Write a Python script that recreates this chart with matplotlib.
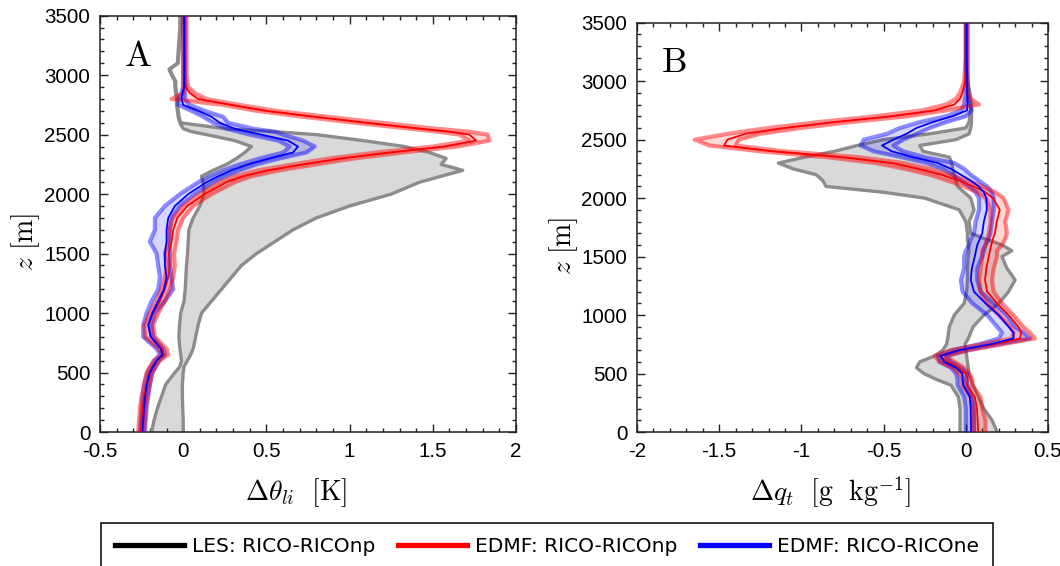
import matplotlib
matplotlib.use("Agg")
import matplotlib.pyplot as plt
from matplotlib.lines import Line2D
from matplotlib.ticker import MultipleLocator, FixedLocator, FixedFormatter

plt.rcParams['font.family'] = ['Liberation Sans', 'DejaVu Sans']
plt.rcParams['mathtext.fontset'] = 'cm'
plt.rcParams['axes.unicode_minus'] = False

# ---------------- Panel A: delta theta_li [K] ----------------
z_A = [0, 100, 200, 300, 400, 500, 550, 600, 650, 700, 800, 900, 1000, 1100, 1200,
       1300, 1400, 1500, 1600, 1700, 1800, 1900, 2000, 2100, 2150, 2200, 2250, 2300,
       2350, 2400, 2450, 2500, 2525, 2550, 2600, 2650, 2700, 2750, 2800, 2850, 2900,
       2950, 3000, 3050, 3100, 3200, 3300, 3400, 3500]

les_lo_A = [-0.19, -0.175, -0.155, -0.13, -0.105, -0.05, -0.02, -0.01, -0.015, -0.02,
            -0.026, -0.022, -0.015, 0.005, 0.012, 0.016, 0.02, 0.026, 0.03, 0.034,
            0.06, 0.10, 0.125, 0.12, 0.11, 0.18, 0.26, 0.32, 0.37, 0.41, 0.31, 0.14,
            0.05, 0.0, -0.02, -0.03, -0.035, -0.04, -0.04, -0.045, -0.05, -0.05,
            -0.07, -0.085, -0.035, -0.03, -0.025, -0.02, -0.02]
les_hi_A = [0.0, 0.0, -0.003, -0.005, -0.005, 0.0, 0.005, 0.025, 0.045, 0.06, 0.075,
            0.09, 0.11, 0.17, 0.23, 0.29, 0.35, 0.44, 0.55, 0.66, 0.80, 1.0, 1.25,
            1.42, 1.55, 1.68, 1.55, 1.58, 1.48, 1.33, 1.08, 0.80, 0.55, 0.25, -0.015,
            -0.025, -0.03, -0.035, -0.035, -0.04, -0.045, -0.045, -0.065, -0.08,
            -0.03, -0.025, -0.02, -0.015, -0.015]

red_c_A = [-0.255, -0.25, -0.245, -0.235, -0.22, -0.205, -0.185, -0.16, -0.115, -0.125,
           -0.195, -0.21, -0.18, -0.14, -0.11, -0.09, -0.08, -0.086, -0.07, -0.06,
           -0.035, 0.025, 0.13, 0.26, 0.36, 0.51, 0.72, 0.95, 1.24, 1.57, 1.76, 1.72,
           1.6, 1.42, 1.1, 0.79, 0.5, 0.29, 0.09, 0.04, 0.015, 0.012, 0.012, 0.011,
           0.011, 0.01, 0.01, 0.01, 0.01]
red_lo_A = [-0.27, -0.265, -0.26, -0.25, -0.235, -0.22, -0.2, -0.175, -0.13, -0.145,
            -0.23, -0.235, -0.2, -0.16, -0.13, -0.11, -0.10, -0.11, -0.09, -0.085,
            -0.06, 0.0, 0.10, 0.22, 0.31, 0.45, 0.66, 0.88, 1.16, 1.5, 1.72, 1.66,
            1.53, 1.36, 1.03, 0.72, 0.44, 0.24, -0.07, 0.0, 0.0, 0.0, 0.0, 0.0,
            0.0, 0.0, 0.0, 0.0, 0.0]
red_hi_A = [-0.235, -0.23, -0.225, -0.215, -0.2, -0.185, -0.165, -0.14, -0.09, -0.10,
            -0.17, -0.18, -0.15, -0.11, -0.08, -0.06, -0.05, -0.055, -0.04, -0.03,
            0.0, 0.06, 0.17, 0.31, 0.41, 0.58, 0.80, 1.03, 1.32, 1.65, 1.84, 1.83,
            1.72, 1.52, 1.19, 0.87, 0.56, 0.34, 0.14, 0.07, 0.03, 0.025, 0.02, 0.02,
            0.02, 0.02, 0.02, 0.02, 0.02]

blue_c_A = [-0.245, -0.24, -0.235, -0.228, -0.218, -0.2, -0.18, -0.16, -0.125, -0.135,
            -0.195, -0.21, -0.185, -0.15, -0.115, -0.10, -0.11, -0.11, -0.10, -0.10,
            -0.09, -0.05, 0.03, 0.14, 0.21, 0.29, 0.39, 0.52, 0.66, 0.69, 0.63, 0.47,
            0.39, 0.31, 0.22, 0.17, 0.09, 0.0, -0.01, -0.005, 0.006, 0.006, 0.006,
            0.006, 0.006, 0.006, 0.006, 0.006, 0.006]
blue_lo_A = [-0.26, -0.255, -0.25, -0.245, -0.235, -0.215, -0.195, -0.175, -0.14, -0.16,
             -0.24, -0.24, -0.22, -0.19, -0.15, -0.14, -0.15, -0.16, -0.20, -0.17,
             -0.17, -0.11, -0.02, 0.09, 0.16, 0.24, 0.34, 0.46, 0.60, 0.64, 0.57, 0.40,
             0.33, 0.26, 0.18, 0.12, 0.05, -0.03, -0.03, -0.01, 0.0, 0.0, 0.0,
             0.0, 0.0, 0.0, 0.0, 0.0, 0.0]
blue_hi_A = [-0.23, -0.225, -0.22, -0.21, -0.2, -0.185, -0.165, -0.145, -0.11, -0.12,
             -0.18, -0.19, -0.17, -0.11, -0.06, -0.07, -0.08, -0.08, -0.08, -0.08,
             -0.07, -0.02, 0.07, 0.18, 0.25, 0.34, 0.44, 0.58, 0.74, 0.79, 0.72, 0.60,
             0.55, 0.42, 0.27, 0.24, 0.13, 0.04, 0.01, 0.01, 0.015, 0.012, 0.012,
             0.012, 0.012, 0.012, 0.012, 0.012, 0.012]

# ---------------- Panel B: delta q_t [g/kg] ----------------
z_B = [0, 100, 200, 300, 400, 450, 500, 550, 600, 650, 700, 750, 800, 850, 900, 1000,
       1100, 1200, 1300, 1400, 1500, 1550, 1600, 1650, 1700, 1800, 1900, 2000, 2050,
       2100, 2150, 2200, 2250, 2300, 2350, 2400, 2450, 2500, 2550, 2600, 2650, 2700,
       2750, 2800, 2850, 2900, 3000, 3100, 3200, 3300, 3400, 3500]

les_lo_B = [-0.035, -0.035, -0.035, -0.045, -0.09, -0.18, -0.255, -0.30, -0.28, -0.19,
            -0.14, -0.117, -0.11, -0.105, -0.10, -0.07, -0.01, 0.005, 0.01, 0.01,
            0.015, 0.02, 0.015, 0.01, 0.01, 0.0, -0.04, -0.25, -0.5, -0.85, -0.87,
            -0.91, -1.05, -1.14, -0.98, -0.80, -0.66, -0.50, -0.22, 0.0, 0.02, 0.025,
            0.03, 0.03, 0.025, 0.02, 0.005, 0.002, 0.0, 0.0, 0.0, 0.0]
les_hi_B = [0.19, 0.16, 0.11, 0.075, 0.045, 0.03, 0.02, 0.015, 0.01, 0.005, 0.0,
            -0.005, 0.015, 0.03, 0.045, 0.11, 0.2, 0.26, 0.30, 0.25, 0.22, 0.28, 0.22,
            0.12, 0.03, 0.02, 0.05, 0.03, -0.01, -0.05, -0.06, -0.07, -0.08, -0.085,
            -0.10, -0.26, -0.28, -0.06, 0.02, 0.03, 0.035, 0.035, 0.035, 0.035, 0.03,
            0.025, 0.01, 0.005, 0.005, 0.005, 0.005, 0.005]

red_c_B = [0.075, 0.072, 0.068, 0.055, 0.008, 0.013, 0.0, -0.045, -0.11, -0.157, -0.04,
           0.17, 0.33, 0.337, 0.32, 0.26, 0.19, 0.13, 0.117, 0.125, 0.14, 0.147, 0.155,
           0.165, 0.177, 0.188, 0.207, 0.165, 0.12, 0.045, -0.045, -0.15, -0.29, -0.45,
           -0.75, -1.17, -1.47, -1.45, -1.34, -1.10, -0.80, -0.45, -0.19, -0.07, -0.035,
           -0.02, -0.005, 0.0, 0.0, 0.0, 0.0, 0.0]
red_lo_B = [0.05, 0.05, 0.045, 0.03, -0.02, -0.02, -0.04, -0.08, -0.16, -0.19, -0.09,
            0.10, 0.28, 0.29, 0.27, 0.20, 0.13, 0.09, 0.08, 0.09, 0.10, 0.10, 0.12,
            0.13, 0.14, 0.15, 0.15, 0.12, 0.07, -0.01, -0.11, -0.22, -0.37, -0.55,
            -0.85, -1.25, -1.56, -1.65, -1.45, -1.20, -0.90, -0.55, -0.27, -0.12,
            -0.06, -0.035, -0.01, -0.005, 0.0, 0.0, 0.0, 0.0]
red_hi_B = [0.12, 0.12, 0.10, 0.09, 0.04, 0.04, 0.02, -0.01, -0.07, -0.12, 0.02, 0.22,
            0.42, 0.39, 0.35, 0.29, 0.22, 0.17, 0.16, 0.17, 0.19, 0.19, 0.22, 0.24,
            0.25, 0.24, 0.26, 0.23, 0.18, 0.10, 0.01, -0.10, -0.22, -0.38, -0.65,
            -1.10, -1.40, -1.38, -1.25, -1.0, -0.70, -0.35, -0.12, 0.08, 0.03, 0.01,
            0.01, 0.01, 0.01, 0.01, 0.01, 0.01]

blue_c_B = [0.032, 0.031, 0.03, 0.024, -0.015, -0.02, -0.02, -0.06, -0.13, -0.155, -0.04,
            0.15, 0.29, 0.29, 0.26, 0.20, 0.12, 0.05, 0.03, 0.037, 0.055, 0.062, 0.07,
            0.085, 0.10, 0.11, 0.128, 0.125, 0.11, 0.078, 0.03, -0.03, -0.09, -0.17,
            -0.32, -0.45, -0.51, -0.44, -0.36, -0.30, -0.20, -0.08, 0.007, 0.01, 0.011,
            0.008, 0.007, 0.006, 0.005, 0.005, 0.005, 0.005]
blue_lo_B = [0.0, 0.0, 0.0, -0.01, -0.05, -0.05, -0.06, -0.09, -0.16, -0.17, -0.08,
             0.08, 0.20, 0.22, 0.19, 0.13, 0.04, -0.02, -0.03, -0.01, -0.01, 0.0, 0.02,
             0.03, 0.05, 0.06, 0.08, 0.08, 0.06, 0.02, -0.03, -0.08, -0.14, -0.24,
             -0.39, -0.56, -0.64, -0.62, -0.48, -0.40, -0.28, -0.12, -0.03, -0.01,
             -0.005, 0.0, 0.0, 0.0, 0.0, 0.0, 0.0, 0.0]
blue_hi_B = [0.05, 0.05, 0.05, 0.04, 0.01, 0.0, 0.01, -0.03, -0.09, -0.12, 0.01, 0.20,
             0.39, 0.35, 0.30, 0.25, 0.17, 0.09, 0.07, 0.07, 0.10, 0.11, 0.12, 0.14,
             0.15, 0.16, 0.17, 0.17, 0.16, 0.13, 0.08, 0.03, -0.01, -0.07, -0.25,
             -0.38, -0.44, -0.38, -0.30, -0.22, -0.12, 0.0, 0.035, 0.025, 0.015, 0.015,
             0.012, 0.01, 0.01, 0.01, 0.01, 0.01]

# ---------------- ticks / labels ----------------
xticks_A = [-0.5, 0, 0.5, 1, 1.5, 2]
xticklabels_A = ['-0.5', '0', '0.5', '1', '1.5', '2']
xticks_B = [-2, -1.5, -1, -0.5, 0, 0.5]
xticklabels_B = ['-2', '-1.5', '-1', '-0.5', '0', '0.5']
yticks = [0, 500, 1000, 1500, 2000, 2500, 3000, 3500]
yticklabels = ['0', '500', '1000', '1500', '2000', '2500', '3000', '3500']

legend_labels = ['LES: RICO-RICOnp', 'EDMF: RICO-RICOnp', 'EDMF: RICO-RICOne']

LES_FILL = '#d9d9d9'
LES_LINE = '#8c8c8c'


def draw_panel(ax, z, les_lo, les_hi, r_c, r_lo, r_hi, b_c, b_lo, b_hi):
    ax.fill_betweenx(z, les_lo, les_hi, color=LES_FILL, lw=0, zorder=1)
    ax.plot(les_lo, z, color=LES_LINE, lw=2.4, zorder=2)
    ax.plot(les_hi, z, color=LES_LINE, lw=2.4, zorder=2)
    for lo, hi, col in ((b_lo, b_hi, 'blue'), (r_lo, r_hi, 'red')):
        ax.fill_betweenx(z, lo, hi, color=col, alpha=0.16, lw=0, zorder=3)
        ax.plot(lo, z, color=col, alpha=0.45, lw=3.0, zorder=4)
        ax.plot(hi, z, color=col, alpha=0.45, lw=3.0, zorder=4)
    ax.plot(r_c, z, color='red', lw=1.3, zorder=5)
    ax.plot(b_c, z, color='blue', lw=1.3, zorder=6)


def style_axes(ax, xlim, xticks, xticklabels, xlabel, letter, ylab_xy, xlab_xy):
    ax.set_xlim(*xlim)
    ax.set_ylim(0, 3500)
    ax.xaxis.set_major_locator(FixedLocator(xticks))
    ax.xaxis.set_major_formatter(FixedFormatter(xticklabels))
    ax.xaxis.set_minor_locator(MultipleLocator(0.1))
    ax.yaxis.set_major_locator(FixedLocator(yticks))
    ax.yaxis.set_major_formatter(FixedFormatter(yticklabels))
    ax.yaxis.set_minor_locator(MultipleLocator(100))
    ax.tick_params(which='both', direction='in', top=True, right=True,
                   width=1.0, color='#222222')
    ax.tick_params(which='major', length=6, labelsize=14.8, pad=7)
    ax.tick_params(which='minor', length=3)
    for s in ax.spines.values():
        s.set_linewidth(1.1)
        s.set_color('#222222')
    ax.set_xlabel(xlabel, fontsize=20)
    ax.xaxis.set_label_coords(*xlab_xy)
    ax.xaxis.label.set_va('center')
    ax.set_ylabel(r'$z\ [\mathrm{m}]$', fontsize=20)
    ax.yaxis.set_label_coords(*ylab_xy)
    ax.yaxis.label.set_va('center')
    ax.text(0.058, 0.879, r'$\mathrm{' + letter + '}$', transform=ax.transAxes,
            fontsize=26, ha='left', va='baseline')


fig = plt.figure(figsize=(10.6, 5.66), dpi=100)
axA = fig.add_axes([100 / 1060, 134 / 566, 416 / 1060, 416.3 / 566])
axB = fig.add_axes([637 / 1060, 134 / 566, 411 / 1060, 409.3 / 566])

draw_panel(axA, z_A, les_lo_A, les_hi_A, red_c_A, red_lo_A, red_hi_A,
           blue_c_A, blue_lo_A, blue_hi_A)
draw_panel(axB, z_B, les_lo_B, les_hi_B, red_c_B, red_lo_B, red_hi_B,
           blue_c_B, blue_lo_B, blue_hi_B)

style_axes(axA, (-0.5, 2), xticks_A, xticklabels_A,
           r'$\Delta\theta_{li}\ \ [\mathrm{K}]$', 'A', (-0.179, 0.457), (0.472, -0.145))
style_axes(axB, (-2, 0.5), xticks_B, xticklabels_B,
           r'$\Delta q_t\ \ [\mathrm{g\ \ kg^{-1}}]$', 'B', (-0.178, 0.454), (0.472, -0.147))

handles = [Line2D([], [], color='black', lw=3.8),
           Line2D([], [], color='red', lw=3.8),
           Line2D([], [], color='blue', lw=3.8)]
leg = fig.legend(handles, legend_labels, loc='upper left', ncol=3, mode='expand',
                 bbox_to_anchor=(101 / 1060, 0.0, 892 / 1060, (566 - 523) / 566),
                 borderaxespad=0, borderpad=0.7, fancybox=False, framealpha=1,
                 edgecolor='black', handlelength=3.4, handletextpad=0.4,
                 prop={'family': 'DejaVu Sans', 'size': 14.5})
leg.get_frame().set_linewidth(1.1)

fig.savefig('out.png', dpi=100)
